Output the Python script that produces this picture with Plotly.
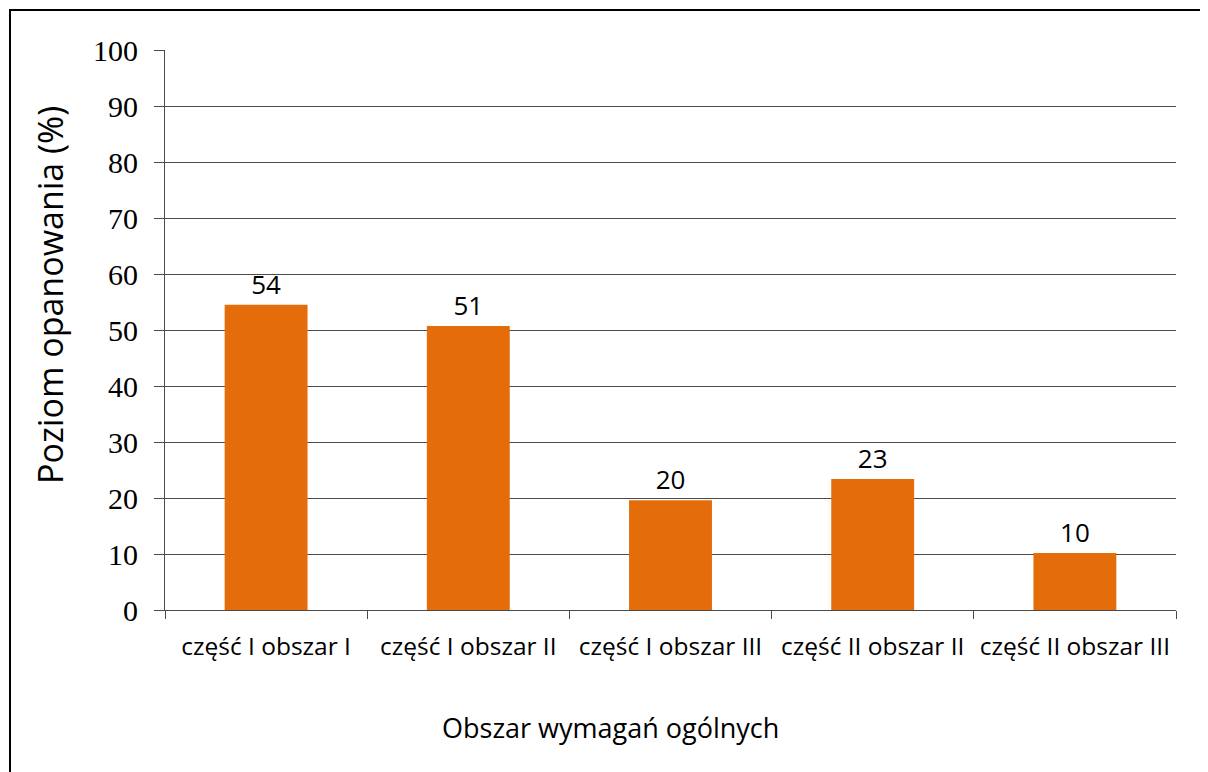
import plotly.graph_objects as go

categories = ["część I obszar I", "część I obszar II", "część I obszar III",
              "część II obszar II", "część II obszar III"]
values = [54.5, 50.7, 19.6, 23.4, 10.2]
labels = ["54", "51", "20", "23", "10"]
y_ticks = [0, 10, 20, 30, 40, 50, 60, 70, 80, 90, 100]

SANS = "Open Sans, Lato, DejaVu Sans, sans-serif"
SERIF = "Liberation Serif, Times New Roman, serif"
LINE = "#4a4a4a"

# figure is drawn at an 8px page offset; plot area in figure coordinates
W, H = 1200, 764
L, T = 157, 42
PW, PH = 1011, 560

fig = go.Figure()
fig.add_trace(go.Bar(
    x=categories, y=values, text=labels, textposition="outside",
    textfont=dict(family=SANS, size=26, color="#000000"),
    marker=dict(color="#E46C0A", line=dict(width=0)),
    cliponaxis=False,
))

fig.update_layout(
    width=W, height=H,
    margin=dict(l=L, r=W - L - PW, t=T, b=H - T - PH),
    paper_bgcolor="white", plot_bgcolor="white",
    showlegend=False, bargap=0.59,
    xaxis=dict(
        type="category", tickson="boundaries", ticks="outside", ticklen=8,
        tickcolor=LINE, showline=True, linecolor=LINE, linewidth=1,
        showgrid=False, ticklabelstandoff=15, tickangle=0, automargin=False,
        tickfont=dict(family=SANS, size=24.5, color="#000000"),
    ),
    yaxis=dict(
        range=[0, 100], tickvals=y_ticks, ticks="outside", ticklen=10,
        tickcolor=LINE, showline=True, linecolor=LINE, linewidth=1,
        showgrid=True, gridcolor=LINE, gridwidth=1, zeroline=False,
        ticklabelstandoff=10, automargin=False,
        tickfont=dict(family=SERIF, size=30, color="#000000"),
    ),
    annotations=[
        dict(text="Poziom opanowania (%)", textangle=-90, showarrow=False,
             xref="paper", yref="paper", x=(42 - L) / PW, y=1 - (287 - T) / PH,
             xanchor="center", yanchor="middle",
             font=dict(family=SANS, size=34, color="#000000")),
        dict(text="Obszar wymagań ogólnych", showarrow=False,
             xref="paper", yref="paper", x=(602.5 - L) / PW, y=-(719 - T - PH) / PH,
             xanchor="center", yanchor="middle",
             font=dict(family=SANS, size=27, color="#000000")),
    ],
    shapes=[dict(type="rect", xref="paper", yref="paper",
                 x0=(2 - L) / PW, x1=1.2, y0=-0.5, y1=1 + (T - 2) / PH,
                 line=dict(color="#000000", width=2), fillcolor="rgba(0,0,0,0)",
                 layer="below")],
)

fig.write_html("out.html")
